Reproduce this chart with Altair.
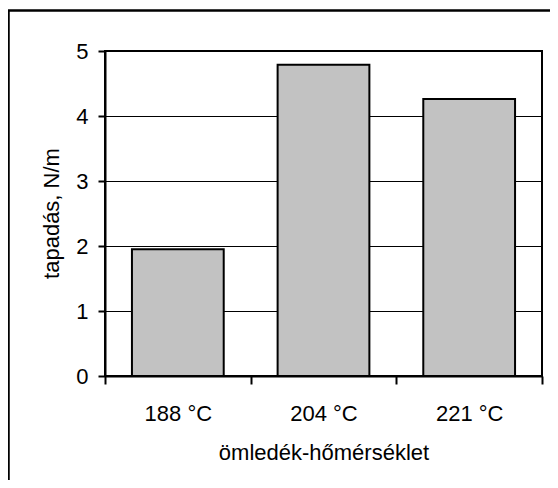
import altair as alt
import pandas as pd

categories = ["188 °C", "204 °C", "221 °C"]
values = [1.95, 4.79, 4.26]
y_ticks = [0, 1, 2, 3, 4, 5]

df = pd.DataFrame({"cat": categories, "val": values})
FONT = "Liberation Sans"

bars = alt.Chart(df).mark_bar(
    fill="#c2c2c2", stroke="black", strokeWidth=2, width={"band": 0.63}
).encode(
    x=alt.X(
        "cat:N", sort=categories,
        scale=alt.Scale(paddingInner=0, paddingOuter=0),
        axis=alt.Axis(
            title="ömledék-hőmérséklet", labelAngle=0, tickBand="extent",
            tickSize=8, tickWidth=2, tickColor="black",
            domainWidth=2, domainColor="black",
            labelBaseline="alphabetic", labelPadding=36,
            titleY=83, titleBaseline="alphabetic",
            grid=False,
        ),
    ),
    y=alt.Y(
        "val:Q",
        scale=alt.Scale(domain=[0, 5], nice=False),
        axis=alt.Axis(
            values=y_ticks, title="tapadás, N/m", format="d",
            tickSize=7, tickWidth=2, tickColor="black",
            domainWidth=2, domainColor="black",
            labelPadding=10, labelBaseline="middle",
            grid=True, gridColor="black", gridWidth=1,
            titleAngle=270, titleX=-54, titleY=162, titleAlign="center",
            titleBaseline="middle",
        ),
    ),
)

frame_df = pd.DataFrame({"k": [0]})
frame = alt.Chart(frame_df).mark_rect(
    filled=False, stroke="black", strokeWidth=2.5
).encode(
    x=alt.value(-96.5), x2=alt.value(470),
    y=alt.value(-40.5), y2=alt.value(470),
)

chart = alt.layer(bars, frame).properties(
    width=437, height=325,
    padding={"left": 97, "top": 43, "right": 8, "bottom": 104},
    autosize=alt.AutoSizeParams(type="none"),
    background="white",
).configure_view(
    stroke="black", strokeWidth=2
).configure_axis(
    labelFont=FONT, titleFont=FONT, labelFontSize=22, titleFontSize=22,
    labelColor="black", titleColor="black", titleFontWeight="normal",
)

chart.save("out.html", embed_options={"renderer": "svg", "actions": False})
